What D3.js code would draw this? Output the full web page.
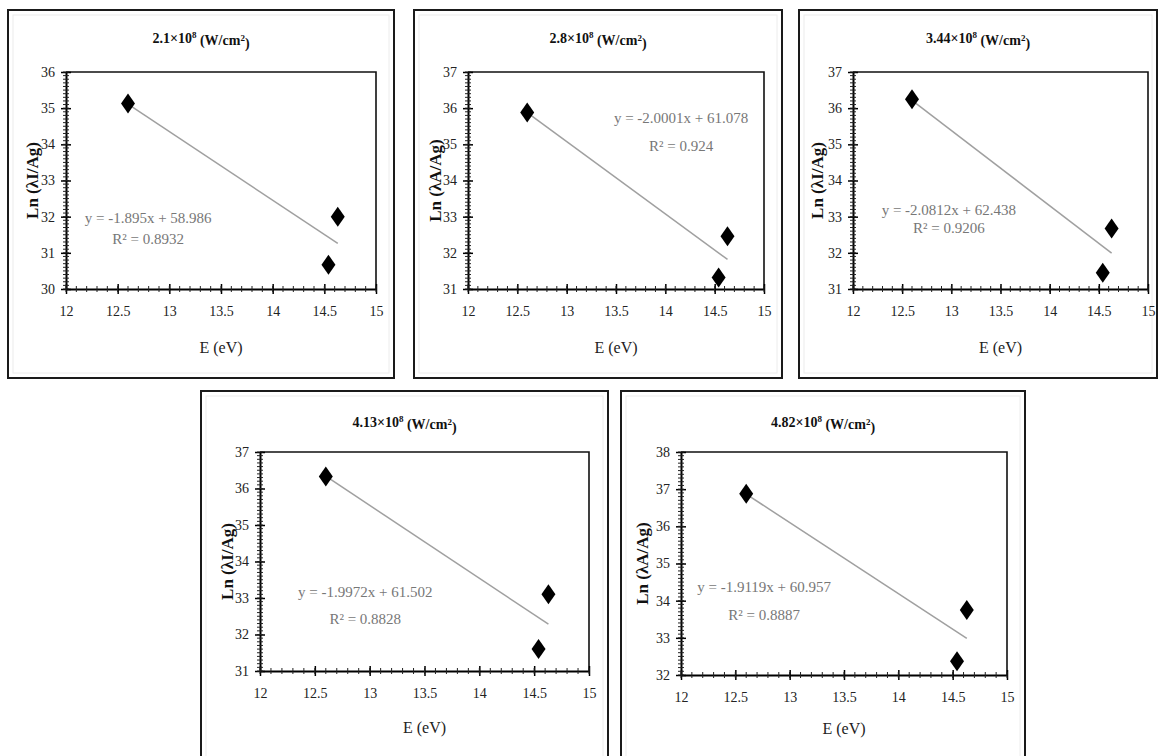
<!DOCTYPE html>
<html>
<head>
<meta charset="utf-8">
<script src="https://cdn.jsdelivr.net/npm/d3@7"></script>
<style>
  body { margin: 0; background: #fff; }
  svg { display: block; font-family: "Liberation Serif", "Times New Roman", serif; }
</style>
</head>
<body>
<svg id="chart" width="1158" height="756"></svg>
<script>
// photon energies of the three lines (same for every panel)
const energy = [12.6, 14.54, 14.63];

// Ln values
const ln21 = [35.13, 30.67, 32.0];
const ln28 = [35.88, 31.32, 32.46];
const ln344 = [36.25, 31.45, 32.67];
const ln413 = [36.33, 31.6, 33.1];
const ln482 = [36.88, 32.37, 33.75];

const powers = ["2.1", "2.8", "3.44", "4.13", "4.82"];
const yLabels = ["Ln (λI/Ag)", "Ln (λA/Ag)", "Ln (λI/Ag)", "Ln (λI/Ag)", "Ln (λA/Ag)"];
const slopes = [-1.895, -2.0001, -2.0812, -1.9972, -1.9119];
const intercepts = [58.986, 61.078, 62.438, 61.502, 60.957];
const eqText = ["y = -1.895x + 58.986", "y = -2.0001x + 61.078", "y = -2.0812x + 62.438", "y = -1.9972x + 61.502", "y = -1.9119x + 60.957"];
const r2Text = ["R² = 0.8932", "R² = 0.924", "R² = 0.9206", "R² = 0.8828", "R² = 0.8887"];
const yDomains = [[30, 36], [31, 37], [31, 37], [31, 37], [32, 38]];
const xTicks = [12, 12.5, 13, 13.5, 14, 14.5, 15];

const series = [ln21, ln28, ln344, ln413, ln482];

// layout of each panel: outer frame, plot area, label positions
const layout = [
  { frame: [8, 10, 394, 378], plot: [66, 72, 376, 289], titleY: 38, xlabY: 347, ylabX: 32, eq: [0.265, 0.67, 0.77] },
  { frame: [414, 10, 782, 378], plot: [468, 72, 764, 289], titleY: 38, xlabY: 347, ylabX: 435, eq: [0.72, 0.21, 0.34] },
  { frame: [799, 10, 1157, 378], plot: [853, 72, 1148, 289], titleY: 38, xlabY: 347, ylabX: 817, eq: [0.325, 0.635, 0.72] },
  { frame: [201, 391, 608, 770], plot: [260, 452, 589, 671], titleY: 422, xlabY: 727, ylabX: 227, eq: [0.32, 0.64, 0.76] },
  { frame: [621, 391, 1025, 770], plot: [681, 452, 1007, 675], titleY: 422, xlabY: 728, ylabX: 642, eq: [0.255, 0.605, 0.73] }
];

const svg = d3.select("#chart");

layout.forEach((L, i) => {
  const [fx0, fy0, fx1, fy1] = L.frame;
  const [px0, py0, px1, py1] = L.plot;
  const g = svg.append("g");

  // outer frame
  g.append("rect")
    .attr("x", fx0).attr("y", fy0)
    .attr("width", fx1 - fx0).attr("height", fy1 - fy0)
    .attr("fill", "#fff")
    .attr("stroke", "#1a1a1a")
    .attr("stroke-width", 2);
  g.append("rect")
    .attr("x", fx0 + 5).attr("y", fy0 + 5)
    .attr("width", fx1 - fx0 - 10).attr("height", fy1 - fy0 - 10)
    .attr("fill", "none")
    .attr("stroke", "#ececec");

  const x = d3.scaleLinear().domain([12, 15]).range([px0, px1]);
  const y = d3.scaleLinear().domain(yDomains[i]).range([py1, py0]);

  // plot border (top/right)
  g.append("path")
    .attr("d", `M${px0},${py0}H${px1}V${py1}`)
    .attr("fill", "none")
    .attr("stroke", "#111")
    .attr("stroke-width", 1.6);

  // x axis
  const xAxis = g.append("g")
    .attr("transform", `translate(0,${py1})`)
    .call(d3.axisBottom(x).tickValues(xTicks).tickSizeInner(5).tickSizeOuter(0).tickPadding(12).tickFormat(d3.format("")));
  xAxis.select(".domain").attr("stroke", "#000").attr("stroke-width", 2);
  xAxis.selectAll(".tick line").attr("y1", -5).attr("stroke-width", 1.5);
  xAxis.selectAll("text")
    .attr("font-family", "Liberation Serif")
    .attr("font-size", 14)
    .attr("fill", "#222");

  // y axis
  const yAxis = g.append("g")
    .attr("transform", `translate(${px0},0)`)
    .call(d3.axisLeft(y).ticks(6).tickSizeInner(5).tickSizeOuter(0).tickPadding(6).tickFormat(d3.format("d")));
  yAxis.select(".domain").attr("stroke", "#000").attr("stroke-width", 2);
  yAxis.selectAll(".tick line").attr("x1", 5).attr("x2", -5).attr("stroke-width", 1.5);
  yAxis.selectAll("text")
    .attr("font-family", "Liberation Serif")
    .attr("font-size", 14)
    .attr("fill", "#222");

  // minor ticks crossing the axes
  const yMinor = d3.range(yDomains[i][0], yDomains[i][1] + 0.001, 0.1);
  g.selectAll(".ymin").data(yMinor).enter().append("line")
    .attr("x1", px0 - 3).attr("x2", px0 + 3)
    .attr("y1", d => y(d)).attr("y2", d => y(d))
    .attr("stroke", "#222").attr("stroke-width", 1);
  const xMinor = d3.range(12, 15.001, 0.1);
  g.selectAll(".xmin").data(xMinor).enter().append("line")
    .attr("y1", py1 - 3).attr("y2", py1 + 3)
    .attr("x1", d => x(d)).attr("x2", d => x(d))
    .attr("stroke", "#222").attr("stroke-width", 1);

  // trendline
  const xs = [d3.min(energy), d3.max(energy)];
  g.append("line")
    .attr("x1", x(xs[0])).attr("y1", y(slopes[i] * xs[0] + intercepts[i]))
    .attr("x2", x(xs[1])).attr("y2", y(slopes[i] * xs[1] + intercepts[i]))
    .attr("stroke", "#a0a0a0")
    .attr("stroke-width", 1.5);

  // diamond markers
  g.selectAll(".pt").data(energy.map((e, k) => [e, series[i][k]])).enter().append("path")
    .attr("d", "M0,-10L7,0L0,10L-7,0Z")
    .attr("transform", d => `translate(${x(d[0])},${y(d[1])})`)
    .attr("fill", "#000");

  // equation + R²
  const ex = px0 + L.eq[0] * (px1 - px0);
  g.append("text")
    .attr("x", ex).attr("y", py0 + L.eq[1] * (py1 - py0))
    .attr("dy", "0.35em")
    .attr("text-anchor", "middle")
    .attr("font-size", 15)
    .attr("fill", "#777")
    .text(eqText[i]);
  g.append("text")
    .attr("x", ex).attr("y", py0 + L.eq[2] * (py1 - py0))
    .attr("dy", "0.35em")
    .attr("text-anchor", "middle")
    .attr("font-size", 15)
    .attr("fill", "#777")
    .text(r2Text[i]);

  // title
  const t = g.append("text")
    .attr("x", (fx0 + fx1) / 2).attr("y", L.titleY)
    .attr("dy", "0.35em")
    .attr("text-anchor", "middle")
    .attr("font-size", 14)
    .attr("font-weight", "bold")
    .attr("fill", "#111");
  t.append("tspan").text(powers[i] + "×10");
  t.append("tspan").attr("font-size", 9).attr("dy", "-0.5em").text("8");
  t.append("tspan").attr("dy", "0.5em").text(" (W/cm");
  t.append("tspan").attr("font-size", 9).attr("dy", "-0.5em").text("2");
  t.append("tspan").attr("dy", "0.5em").text(")");

  // axis titles
  g.append("text")
    .attr("x", (px0 + px1) / 2).attr("y", L.xlabY)
    .attr("dy", "0.35em")
    .attr("text-anchor", "middle")
    .attr("font-size", 16)
    .attr("fill", "#222")
    .text("E (eV)");
  g.append("text")
    .attr("transform", `translate(${L.ylabX},${(py0 + py1) / 2}) rotate(-90)`)
    .attr("dy", "0.35em")
    .attr("text-anchor", "middle")
    .attr("font-size", 17)
    .attr("font-weight", "bold")
    .attr("fill", "#111")
    .text(yLabels[i]);
});
</script>
</body>
</html>
